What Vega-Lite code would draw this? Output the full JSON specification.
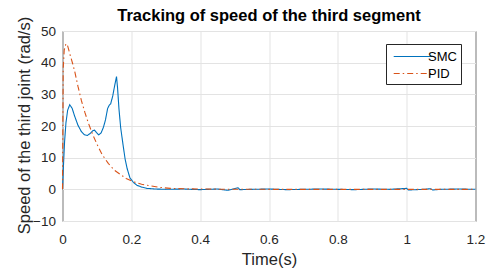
{
  "$schema": "https://vega.github.io/schema/vega-lite/v6.json",
  "width": 413,
  "height": 190,
  "autosize": {"type": "none"},
  "padding": {"left": 62.5, "top": 31, "right": 14, "bottom": 50},
  "background": "white",
  "title": {
    "text": "Tracking of speed of the third segment",
    "font": "Liberation Sans",
    "fontSize": 16.5,
    "fontWeight": "bold",
    "color": "#000000",
    "anchor": "middle",
    "offset": -8
  },
  "config": {
    "view": {"stroke": "#262626", "strokeWidth": 1},
    "axis": {
      "labelFont": "Liberation Sans",
      "titleFont": "Liberation Sans",
      "labelFontSize": 13.5,
      "labelColor": "#262626",
      "titleColor": "#262626",
      "titleFontWeight": "normal",
      "gridColor": "#e3e3e3",
      "gridWidth": 1,
      "ticks": false,
      "domain": false
    }
  },
  "datasets": {
    "speed": [
      {"t": 0, "v": 0, "s": "SMC"},
      {"t": 0.003, "v": 8, "s": "SMC"},
      {"t": 0.006, "v": 15, "s": "SMC"},
      {"t": 0.01, "v": 21, "s": "SMC"},
      {"t": 0.015, "v": 25, "s": "SMC"},
      {"t": 0.021, "v": 26.7, "s": "SMC"},
      {"t": 0.028, "v": 25.6, "s": "SMC"},
      {"t": 0.035, "v": 23.2, "s": "SMC"},
      {"t": 0.045, "v": 20.2, "s": "SMC"},
      {"t": 0.055, "v": 18.2, "s": "SMC"},
      {"t": 0.064, "v": 17.2, "s": "SMC"},
      {"t": 0.072, "v": 17, "s": "SMC"},
      {"t": 0.08, "v": 17.6, "s": "SMC"},
      {"t": 0.088, "v": 18.5, "s": "SMC"},
      {"t": 0.093, "v": 18.7, "s": "SMC"},
      {"t": 0.099, "v": 17.9, "s": "SMC"},
      {"t": 0.105, "v": 17.2, "s": "SMC"},
      {"t": 0.112, "v": 17.8, "s": "SMC"},
      {"t": 0.119, "v": 19.6, "s": "SMC"},
      {"t": 0.125, "v": 22, "s": "SMC"},
      {"t": 0.131, "v": 25.5, "s": "SMC"},
      {"t": 0.136, "v": 26.6, "s": "SMC"},
      {"t": 0.14, "v": 27, "s": "SMC"},
      {"t": 0.146, "v": 29.5, "s": "SMC"},
      {"t": 0.152, "v": 33, "s": "SMC"},
      {"t": 0.157, "v": 35.6, "s": "SMC"},
      {"t": 0.16, "v": 32, "s": "SMC"},
      {"t": 0.164, "v": 25.5, "s": "SMC"},
      {"t": 0.169, "v": 19.5, "s": "SMC"},
      {"t": 0.176, "v": 14, "s": "SMC"},
      {"t": 0.182, "v": 9.5, "s": "SMC"},
      {"t": 0.188, "v": 6.5, "s": "SMC"},
      {"t": 0.196, "v": 3.6, "s": "SMC"},
      {"t": 0.206, "v": 2.2, "s": "SMC"},
      {"t": 0.216, "v": 1.3, "s": "SMC"},
      {"t": 0.23, "v": 0.7, "s": "SMC"},
      {"t": 0.245, "v": 0.3, "s": "SMC"},
      {"t": 0.27, "v": 0.1, "s": "SMC"},
      {"t": 0.3, "v": 0, "s": "SMC"},
      {"t": 0.35, "v": 0.1, "s": "SMC"},
      {"t": 0.4, "v": -0.1, "s": "SMC"},
      {"t": 0.45, "v": 0.1, "s": "SMC"},
      {"t": 0.48, "v": -0.3, "s": "SMC"},
      {"t": 0.51, "v": 0.5, "s": "SMC"},
      {"t": 0.515, "v": -0.1, "s": "SMC"},
      {"t": 0.55, "v": 0, "s": "SMC"},
      {"t": 0.6, "v": 0.1, "s": "SMC"},
      {"t": 0.65, "v": -0.1, "s": "SMC"},
      {"t": 0.7, "v": 0, "s": "SMC"},
      {"t": 0.75, "v": 0.1, "s": "SMC"},
      {"t": 0.8, "v": 0, "s": "SMC"},
      {"t": 0.85, "v": -0.1, "s": "SMC"},
      {"t": 0.9, "v": 0.1, "s": "SMC"},
      {"t": 0.95, "v": 0, "s": "SMC"},
      {"t": 1.0, "v": 0.3, "s": "SMC"},
      {"t": 1.005, "v": -0.2, "s": "SMC"},
      {"t": 1.05, "v": 0, "s": "SMC"},
      {"t": 1.07, "v": 0.2, "s": "SMC"},
      {"t": 1.075, "v": -0.2, "s": "SMC"},
      {"t": 1.1, "v": 0, "s": "SMC"},
      {"t": 1.15, "v": 0.1, "s": "SMC"},
      {"t": 1.2, "v": 0, "s": "SMC"},
      {"t": 0, "v": 0, "s": "PID"},
      {"t": 0.002, "v": 38, "s": "PID"},
      {"t": 0.005, "v": 44, "s": "PID"},
      {"t": 0.01, "v": 46, "s": "PID"},
      {"t": 0.015, "v": 45.3, "s": "PID"},
      {"t": 0.022, "v": 42.5, "s": "PID"},
      {"t": 0.03, "v": 39.5, "s": "PID"},
      {"t": 0.036, "v": 37, "s": "PID"},
      {"t": 0.045, "v": 32.5, "s": "PID"},
      {"t": 0.055, "v": 28, "s": "PID"},
      {"t": 0.065, "v": 24.3, "s": "PID"},
      {"t": 0.075, "v": 21, "s": "PID"},
      {"t": 0.087, "v": 17.5, "s": "PID"},
      {"t": 0.1, "v": 14.3, "s": "PID"},
      {"t": 0.115, "v": 11, "s": "PID"},
      {"t": 0.133, "v": 8.2, "s": "PID"},
      {"t": 0.15, "v": 6.1, "s": "PID"},
      {"t": 0.167, "v": 4.8, "s": "PID"},
      {"t": 0.185, "v": 3.4, "s": "PID"},
      {"t": 0.206, "v": 2.4, "s": "PID"},
      {"t": 0.23, "v": 1.6, "s": "PID"},
      {"t": 0.255, "v": 1.1, "s": "PID"},
      {"t": 0.285, "v": 0.6, "s": "PID"},
      {"t": 0.313, "v": 0.3, "s": "PID"},
      {"t": 0.36, "v": 0.15, "s": "PID"},
      {"t": 0.45, "v": 0.05, "s": "PID"},
      {"t": 0.6, "v": 0, "s": "PID"},
      {"t": 1.2, "v": 0, "s": "PID"}
    ]
  },
  "data": {"name": "speed"},
  "mark": {"type": "line", "strokeWidth": 1.1, "interpolate": "linear"},
  "encoding": {
    "x": {
      "field": "t",
      "type": "quantitative",
      "scale": {"domain": [0, 1.2], "nice": false},
      "axis": {
        "values": [0, 0.2, 0.4, 0.6, 0.8, 1, 1.2],
        "format": "~g",
        "labelFlush": false,
        "title": "Time(s)",
        "titleFontSize": 16.5,
        "labelPadding": 11,
        "titlePadding": 6,
        "grid": true
      }
    },
    "y": {
      "field": "v",
      "type": "quantitative",
      "scale": {"domain": [-10, 50], "nice": false, "zero": false},
      "axis": {
        "values": [-10, 0, 10, 20, 30, 40, 50],
        "labelFlush": false,
        "title": "Speed of the third joint (rad/s)",
        "titleFontSize": 16.5,
        "titleX": -38.5,
        "titleY": 94,
        "titleBaseline": "middle",
        "titleAlign": "center",
        "titleAngle": -90,
        "labelPadding": 7,
        "grid": true
      }
    },
    "color": {
      "field": "s",
      "type": "nominal",
      "scale": {"domain": ["SMC", "PID"], "range": ["#0072BD", "#D95319"]},
      "legend": {
        "title": null,
        "orient": "none",
        "legendX": 323.5,
        "legendY": 13,
        "fillColor": "white",
        "strokeColor": "#262626",
        "padding": 3.5,
        "symbolType": "M-0.6,0H4.2",
        "symbolSize": 256,
        "symbolStrokeWidth": 1.2,
        "labelFont": "Liberation Sans",
        "labelFontSize": 13,
        "labelColor": "#000000",
        "labelOffset": 20.5,
        "rowPadding": 1
      }
    },
    "strokeDash": {
      "field": "s",
      "type": "nominal",
      "scale": {"domain": ["SMC", "PID"], "range": [[1, 0], [6, 3, 1.5, 3]]},
      "legend": null
    },
    "order": {"field": "t", "type": "quantitative"}
  }
}
